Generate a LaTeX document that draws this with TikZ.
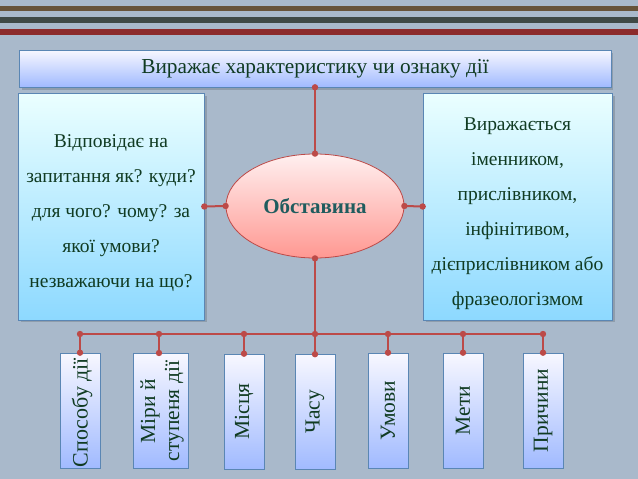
\documentclass[tikz,border=0pt]{standalone}
\usepackage{fontspec}
\setmainfont{Liberation Serif}
\usetikzlibrary{shapes.geometric}
\definecolor{bg}{HTML}{A9B9CB}
\definecolor{conn}{HTML}{BC4A48}
\definecolor{txt}{HTML}{103B22}
\definecolor{elltxt}{HTML}{1F5C5E}
\definecolor{boxedge}{HTML}{5A86B4}
\definecolor{stripeA}{HTML}{67533A}
\definecolor{stripeB}{HTML}{3F4946}
\definecolor{stripeC}{HTML}{8C2B2B}
\tikzset{
  conline/.style={draw=conn, line width=2pt},
  dot/.style={fill=conn},
  cyanbox/.style={rectangle, draw=boxedge, line width=0.6pt, top color=cyan!8!white, bottom color=cyan!35!white!85!blue, inner sep=0pt},
  sidetext/.style={text=txt, font=\fontsize{19.5}{35}\selectfont, align=center, inner sep=0pt},
  bluebox/.style={rectangle, draw=boxedge, line width=0.6pt, top color=blue!3!white, bottom color=blue!30!white!90!cyan,
    text=txt, inner sep=0pt},
  catbox/.style={bluebox, minimum width=40pt, minimum height=115pt},
  cattext/.style={rotate=90, text=txt, font=\fontsize{21.5}{24}\selectfont, align=center, inner sep=0pt},
}
\begin{document}
\begin{tikzpicture}[x=1pt,y=-1pt]
\useasboundingbox (0,0) rectangle (638,479);
\fill[bg] (0,0) rectangle (638,479);
% stripes
\fill[stripeA] (0,5.5) rectangle (638,10.5);
\fill[stripeB] (0,17) rectangle (638,23);
\fill[stripeC] (0,28.5) rectangle (638,34.5);
% shadows
\begin{scope}[black,opacity=0.15]
\fill (22,53) rectangle (613,90);
\fill (21,96) rectangle (207,322);
\fill (426,96) rectangle (615,322);
\end{scope}
% top box
\node[bluebox, minimum width=592pt, minimum height=37pt, font=\fontsize{21.3}{24}\selectfont] (top) at (315,68.5) {Виражає характеристику чи ознаку дії};
% side boxes
\node[cyanbox, minimum width=186pt, minimum height=227pt] (left) at (111,206.5) {};
\node[cyanbox, minimum width=189pt, minimum height=227pt] (right) at (517.5,206.5) {};
\node[sidetext] (ltext) at (111,213) {Відповідає на\\запитання як? куди?\\для чого? чому? за\\якої умови?\\незважаючи на що?};
\node[sidetext] (rtext) at (517.5,213.5) {Виражається\\іменником,\\прислівником,\\інфінітивом,\\дієприслівником або\\фразеологізмом};
% ellipse
\node[ellipse, draw=conn, line width=0.8pt, top color=red!6!white, bottom color=red!40!white!95!orange,
  minimum width=178pt, minimum height=104pt, inner sep=0pt, text=elltxt, font=\fontsize{21}{24}\selectfont\bfseries] (ell) at (315,206) {Обставина};
% category boxes
\node[catbox] (b1) at (80,410.5) {};
\node[catbox, minimum width=55pt] (b2) at (160.5,410.5) {};
\node[catbox] (b3) at (244,411.5) {};
\node[catbox] (b4) at (315,412) {};
\node[catbox] (b5) at (388,410.5) {};
\node[catbox] (b6) at (463,410.5) {};
\node[catbox] (b7) at (543,410.5) {};
\node[cattext, font=\fontsize{22}{24}\selectfont] (t1) at (82,412.5) {Способу дії};
\node[cattext] (t2) at (162,411) {Міри й\\ступеня дії};
\node[cattext] (t3) at (b3) {Місця};
\node[cattext] (t4) at (b4) {Часу};
\node[cattext] (t5) at (b5) {Умови};
\node[cattext] (t6) at (b6) {Мети};
\node[cattext] (t7) at (b7) {Причини};
% bus coordinates
\coordinate (j1) at (80,334);
\coordinate (j2) at (159,334);
\coordinate (j3) at (244,334);
\coordinate (j4) at (315,334);
\coordinate (j5) at (388,334);
\coordinate (j6) at (463,334);
\coordinate (j7) at (543,334);
\coordinate (s2) at (159,353);
% connectors
\draw[conline] (top.south) -- (ell.north);
\draw[conline] (left.east) -- (ell.west);
\draw[conline] (ell.east) -- (right.west);
\draw[conline] (ell.south) -- (j4) -- (b4.north);
\draw[conline] (j1) -- (j7);
\draw[conline] (j1) -- (b1.north);
\draw[conline] (j2) -- (s2);
\draw[conline] (j3) -- (b3.north);
\draw[conline] (j5) -- (b5.north);
\draw[conline] (j6) -- (b6.north);
\draw[conline] (j7) -- (b7.north);
% dots
\foreach \p in {top.south, ell.north, left.east, ell.west, ell.east, right.west, ell.south,
  j1,j2,j3,j4,j5,j6,j7,s2,b1.north,b3.north,b4.north,b5.north,b6.north,b7.north}
  \fill[dot] (\p) circle[radius=3.2pt];
\end{tikzpicture}
\end{document}
